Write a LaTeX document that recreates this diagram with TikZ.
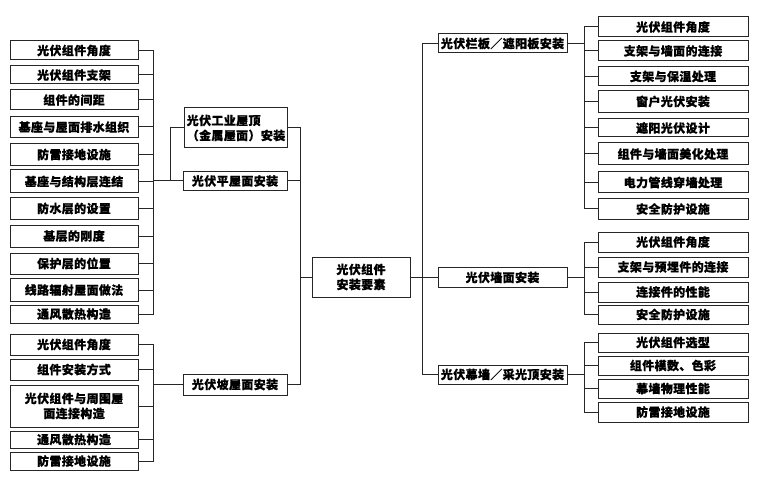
\documentclass[tikz,border=0pt]{standalone}
\usepackage{fontspec}
\setmainfont{Noto Sans CJK SC}[FakeBold=0.6, LetterSpace=3]
\begin{document}
\begin{tikzpicture}[x=1pt, y=-1pt, line width=1pt, draw=black!85,
  font=\fontsize{12}{15}\selectfont\bfseries,
  box/.style={draw, inner sep=1pt, minimum height=20pt},
  leaf/.style={box, minimum width=128pt},
  part/.style={box, minimum width=150pt},
  kind/.style={box, minimum width=129pt}]

\useasboundingbox (0,0) rectangle (759,486);

% Root
\node[box, minimum width=98pt, minimum height=40pt, align=center] (Root) at (361,277) {光伏组件\\安装要素};

% Roof types
\node[box, minimum width=103pt, minimum height=40pt, align=left] (Metal) at (236,128) {光伏工业屋顶\\（金属屋面）安装};
\node[box, minimum width=104pt, minimum height=19pt] (Flat) at (235,181) {光伏平屋面安装};
\node[box, minimum width=104pt, minimum height=21pt] (Slope) at (235,384.5) {光伏坡屋面安装};

% Wall types
\node[kind, minimum height=19pt] (Rail) at (502.5,43.5) {光伏栏板／遮阳板安装};
\node[kind] (Wall) at (502.5,277.5) {光伏墙面安装};
\node[kind, minimum height=19pt] (Curtain) at (502.5,374.5) {光伏幕墙／采光顶安装};

% Flat roof items
\node[leaf, minimum height=19pt] (F1) at (74,50.5) {光伏组件角度};
\node[leaf, minimum height=18pt] (F2) at (74,75) {光伏组件支架};
\node[leaf] (F3) at (74,100) {组件的间距};
\node[leaf, minimum height=21pt] (F4) at (74,127) {基座与屋面排水组织};
\node[leaf, minimum height=22pt] (F5) at (74,154.5) {防雷接地设施};
\node[leaf, minimum height=23pt] (F6) at (74,181.5) {基座与结构层连结};
\node[leaf, minimum height=22pt] (F7) at (74,208.5) {防水层的设置};
\node[leaf, minimum height=22pt] (F8) at (74,236) {基层的刚度};
\node[leaf, minimum height=21pt] (F9) at (74,263.5) {保护层的位置};
\node[leaf, minimum height=23pt] (F10) at (74,290) {线路辐射屋面做法};
\node[leaf, minimum height=18pt] (F11) at (74,314) {通风散热构造};

% Slope roof items
\node[leaf, minimum height=21pt] (S1) at (74,344.5) {光伏组件角度};
\node[leaf, minimum height=21pt] (S2) at (74,369.5) {组件安装方式};
\node[leaf, minimum height=42pt, align=center] (S3) at (74,406) {光伏组件与周围屋\\面连接构造};
\node[leaf, minimum height=17pt] (S4) at (74,439.5) {通风散热构造};
\node[leaf, minimum height=18pt] (S5) at (74,461) {防雷接地设施};

% Rail items
\node[part] (R1) at (673,27) {光伏组件角度};
\node[part] (R2) at (673,51) {支架与墙面的连接};
\node[part, minimum height=19pt] (R3) at (673,76.5) {支架与保温处理};
\node[part, minimum height=22pt] (R4) at (673,101.5) {窗户光伏安装};
\node[part, minimum height=18pt] (R5) at (673,128) {遮阳光伏设计};
\node[part, minimum height=22pt] (R6) at (673,154) {组件与墙面美化处理};
\node[part, minimum height=21pt] (R7) at (673,182.5) {电力管线穿墙处理};
\node[part] (R8) at (673,209) {安全防护设施};

% Wall items
\node[part] (W1) at (673,242) {光伏组件角度};
\node[part] (W2) at (673,267) {支架与预埋件的连接};
\node[part] (W3) at (673,292) {连接件的性能};
\node[part, minimum height=19pt] (W4) at (673,314.5) {安全防护设施};

% Curtain items
\node[part, minimum height=19pt] (C1) at (673,342.5) {光伏组件选型};
\node[part, minimum height=19pt] (C2) at (673,365.5) {组件模数、色彩};
\node[part, minimum height=19pt] (C3) at (673,388.5) {幕墙物理性能};
\node[part] (C4) at (673,412) {防雷接地设施};

% Junctions
\coordinate (FlatJ) at (153,181);
\coordinate (MetalJ) at (170,181);
\coordinate (SlopeJ) at (153,384.5);
\coordinate (RootJ) at (300,277);
\coordinate (WallJ) at (422,277);
\coordinate (RailJ) at (584,43.5);
\coordinate (PartJ) at (584,277.5);
\coordinate (CurtainJ) at (584,374.5);

% Left buses
\draw (F1.east) -- (F1.east -| FlatJ) -- (F11.east -| FlatJ) -- (F11.east);
\draw (F2.east) -- (F2.east -| FlatJ);
\draw (F3.east) -- (F3.east -| FlatJ);
\draw (F4.east) -- (F4.east -| FlatJ);
\draw (F5.east) -- (F5.east -| FlatJ);
\draw (F6.east) -- (F6.east -| FlatJ);
\draw (F7.east) -- (F7.east -| FlatJ);
\draw (F8.east) -- (F8.east -| FlatJ);
\draw (F9.east) -- (F9.east -| FlatJ);
\draw (F10.east) -- (F10.east -| FlatJ);
\draw (FlatJ) -- (Flat.west);
\draw (MetalJ) |- (Metal.west);

\draw (S1.east) -- (S1.east -| SlopeJ) -- (S5.east -| SlopeJ) -- (S5.east);
\draw (S2.east) -- (S2.east -| SlopeJ);
\draw (S3.east) -- (S3.east -| SlopeJ);
\draw (S4.east) -- (S4.east -| SlopeJ);
\draw (SlopeJ) -- (Slope.west);

% Roof types to root
\draw (Metal.east) -| (RootJ);
\draw (Flat.east) -| (RootJ);
\draw (Slope.east) -| (RootJ);
\draw (RootJ) -- (Root.west);

% Root to wall types
\draw (Root.east) -- (WallJ);
\draw (WallJ) |- (Rail.west);
\draw (WallJ) |- (Curtain.west);
\draw (WallJ) |- (Wall.west);

% Right buses
\draw (R1.west) -- (R1.west -| RailJ) -- (R8.west -| RailJ) -- (R8.west);
\draw (R2.west) -- (R2.west -| RailJ);
\draw (R3.west) -- (R3.west -| RailJ);
\draw (R4.west) -- (R4.west -| RailJ);
\draw (R5.west) -- (R5.west -| RailJ);
\draw (R6.west) -- (R6.west -| RailJ);
\draw (R7.west) -- (R7.west -| RailJ);
\draw (Rail.east) -- (RailJ);

\draw (W1.west) -- (W1.west -| PartJ) -- (W4.west -| PartJ) -- (W4.west);
\draw (W2.west) -- (W2.west -| PartJ);
\draw (W3.west) -- (W3.west -| PartJ);
\draw (Wall.east) -- (PartJ);

\draw (C1.west) -- (C1.west -| CurtainJ) -- (C4.west -| CurtainJ) -- (C4.west);
\draw (C2.west) -- (C2.west -| CurtainJ);
\draw (C3.west) -- (C3.west -| CurtainJ);
\draw (Curtain.east) -- (CurtainJ);

\end{tikzpicture}
\end{document}
